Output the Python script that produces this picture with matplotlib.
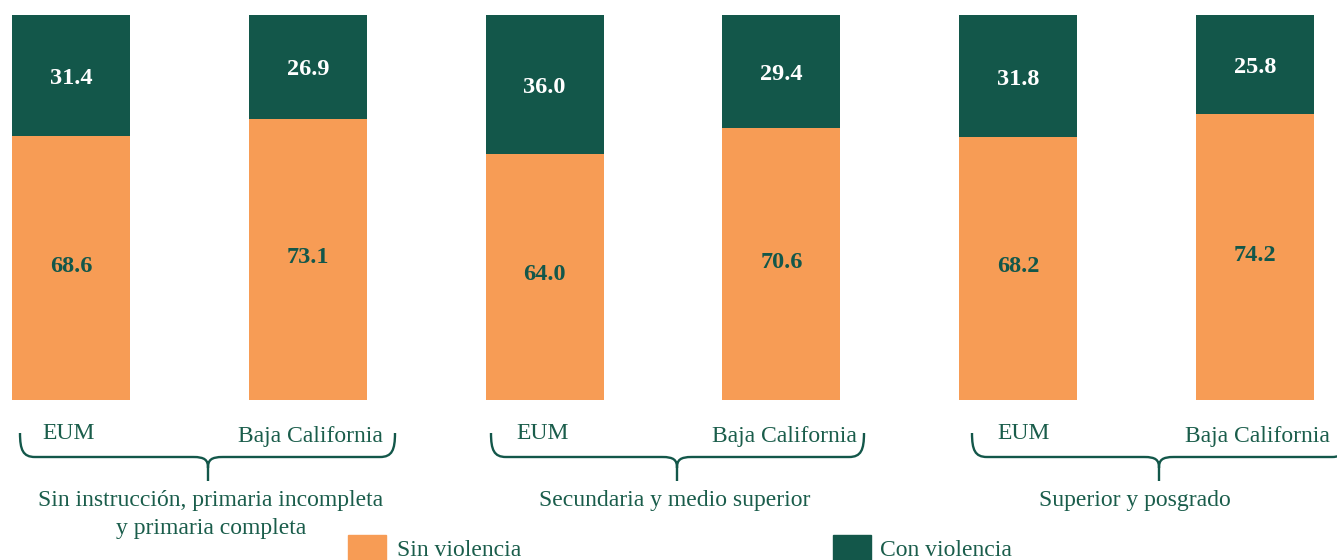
import matplotlib
matplotlib.use("Agg")
import matplotlib.pyplot as plt
import numpy as np
from matplotlib.path import Path
from matplotlib.patches import PathPatch, Rectangle

plt.rcParams['font.family'] = ['Liberation Serif', 'DejaVu Serif']

categories = ["EUM", "Baja California", "EUM", "Baja California", "EUM", "Baja California"]
groups = [["Sin instrucción, primaria incompleta", "y primaria completa"],
          ["Secundaria y medio superior"],
          ["Superior y posgrado"]]
sin_violencia = [68.6, 73.1, 64.0, 70.6, 68.2, 74.2]
con_violencia = [31.4, 26.9, 36.0, 29.4, 31.8, 25.8]

ORANGE = '#F79C55'
DARK = '#13574A'
TEXT = '#1A5D4B'
FS = 17

fig = plt.figure(figsize=(13.37, 5.6), dpi=100)
W, H = 1337, 560

# main bar axes: bars span y pixels 15..400
ax = fig.add_axes([0, 160 / H, 1, 385 / H])
step = 236.8
x = np.arange(len(categories))
width = 118 / step
ax.bar(x, sin_violencia, width=width, color=ORANGE)
ax.bar(x, con_violencia, width=width, bottom=sin_violencia, color=DARK)
ax.set_xlim(-71 / step, (W - 71) / step)
ax.set_ylim(0, 100)
ax.axis('off')

for xi, s, c in zip(x, sin_violencia, con_violencia):
    ax.text(xi, s / 2 + 0.5, f"{s:.1f}", ha='center', va='center',
            color=DARK, fontsize=FS + 0.5, fontweight='bold')
    ax.text(xi, s + c / 2 - 0.8, f"{c:.1f}", ha='center', va='center',
            color='white', fontsize=FS + 0.5, fontweight='bold')

# overlay in pixel coords for labels, braces, legend
ov = fig.add_axes([0, 0, 1, 1], zorder=5)
ov.set_xlim(0, W)
ov.set_ylim(H, 0)
ov.axis('off')

eum_x = [42, 516, 997]
bc_x = [383, 857, 1330]
for ex, bx in zip(eum_x, bc_x):
    ov.text(ex, 439, "EUM", ha='left', va='baseline', color=TEXT, fontsize=FS)
    ov.text(bx, 442, "Baja California", ha='right', va='baseline', color=TEXT, fontsize=FS)

def brace(x0, x1, xc, ytop=433, yh=457, ytip=481, r=15):
    verts = [
        (x0, ytop), (x0, ytop + 17), (x0 + 3, yh), (x0 + r, yh),
        (xc - r, yh),
        (xc - 3, yh), (xc, yh + 3), (xc, yh + 11),
        (xc, ytip),
        (xc, yh + 11),
        (xc, yh + 3), (xc + 3, yh), (xc + r, yh),
        (x1 - r, yh),
        (x1 - 3, yh), (x1, ytop + 17), (x1, ytop),
    ]
    codes = [Path.MOVETO, Path.CURVE4, Path.CURVE4, Path.CURVE4,
             Path.LINETO,
             Path.CURVE4, Path.CURVE4, Path.CURVE4,
             Path.LINETO,
             Path.MOVETO,
             Path.CURVE4, Path.CURVE4, Path.CURVE4,
             Path.LINETO,
             Path.CURVE4, Path.CURVE4, Path.CURVE4]
    ov.add_patch(PathPatch(Path(verts, codes), fill=False, edgecolor=DARK, lw=1.7))

brace(20, 395, 208)
brace(491, 864, 677)
brace(972, 1347, 1159)

group_x = [211, 675, 1135]
for gx, lines in zip(group_x, groups):
    for k, line in enumerate(lines):
        ov.text(gx, 506 + 28 * k, line, ha='center', va='baseline',
                color=TEXT, fontsize=FS)

# legend
ov.add_patch(Rectangle((348, 535), 38, 25, color=ORANGE))
ov.text(397, 556, "Sin violencia", ha='left', va='baseline', color=TEXT, fontsize=FS)
ov.add_patch(Rectangle((833, 535), 38, 25, color=DARK))
ov.text(880, 556, "Con violencia", ha='left', va='baseline', color=TEXT, fontsize=FS)

fig.savefig("out.png", dpi=100)
